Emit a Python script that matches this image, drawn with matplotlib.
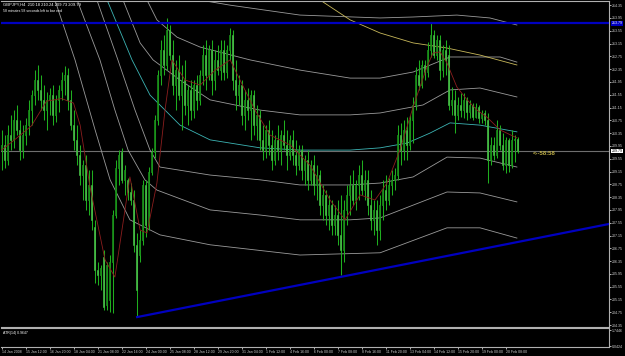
import numpy as np
import matplotlib
matplotlib.use("Agg")
import matplotlib.pyplot as plt

# GBPJPY H4 candles
opens = [209.82, 209.98, 209.51, 210.29, 210.14, 210.76, 210.45, 209.82, 210.29, 210.60,
         211.07, 211.54, 212.01, 211.70, 211.39, 211.07, 211.39, 211.54, 210.92, 211.39,
         211.70, 212.01, 212.17, 211.39, 210.60, 210.14, 209.67, 209.04, 209.35, 208.26,
         208.73, 207.42, 206.07, 205.92, 206.48, 204.98, 205.14, 206.32, 207.79, 209.26,
         209.76, 208.89, 208.89, 208.51, 208.26, 206.85, 206.54, 207.01, 208.73, 207.48,
         209.14, 209.76, 210.76, 212.17, 212.95, 212.48, 213.57, 212.79, 211.85, 212.32,
         211.54, 212.01, 211.23, 211.70, 211.07, 211.85, 211.39, 212.17, 212.79, 212.17,
         212.95, 212.01, 212.64, 212.32, 212.95, 212.26, 212.95, 213.42, 212.01, 211.54,
         211.85, 210.92, 211.39, 211.07, 211.54, 210.60, 210.92, 210.14, 209.82, 210.45,
         209.98, 209.51, 210.14, 209.82, 210.29, 209.98, 209.67, 210.14, 209.67, 209.35,
         209.82, 209.20, 209.51, 208.89, 209.35, 208.73, 209.04, 208.10, 208.42, 207.79,
         208.10, 207.48, 207.79, 207.17, 206.70, 207.95, 208.42, 208.73, 208.26, 208.73,
         209.04, 208.57, 208.89, 208.10, 207.64, 207.95, 207.32, 208.10, 208.57, 208.26,
         208.73, 208.89, 209.04, 210.29, 209.82, 210.45, 209.98, 210.76, 211.23, 212.17,
         211.85, 212.48, 212.26, 212.95, 213.42, 212.79, 213.26, 212.32, 212.95, 212.79,
         211.23, 211.39, 210.92, 211.23, 211.07, 211.39, 211.01, 211.23, 210.85, 211.17,
         210.82, 210.98, 210.76, 209.51, 209.98, 209.67, 210.45, 209.98, 209.35, 210.14,
         209.35, 210.14, 210.18]
highs = [210.45, 210.29, 210.60, 210.92, 211.07, 211.23, 210.76, 210.60, 210.82, 211.39,
         211.70, 212.32, 212.48, 212.17, 211.85, 211.64, 211.76, 211.85, 211.54, 211.85,
         212.26, 212.45, 212.39, 211.70, 211.07, 210.60, 209.98, 209.51, 209.67, 209.20,
         209.20, 207.64, 206.32, 206.23, 206.70, 206.32, 206.54, 207.95, 209.51, 209.82,
         209.89, 209.35, 208.95, 208.79, 208.57, 207.23, 207.32, 208.89, 208.89, 209.29,
         209.89, 210.92, 212.32, 213.26, 213.42, 213.95, 213.73, 213.26, 212.64, 212.79,
         212.48, 212.64, 211.85, 212.01, 212.01, 212.17, 212.32, 213.10, 213.26, 213.10,
         213.26, 212.95, 213.10, 213.26, 213.26, 213.10, 213.64, 213.57, 212.64, 212.17,
         212.01, 211.70, 211.76, 211.70, 211.70, 211.23, 211.07, 210.60, 210.60, 210.76,
         210.45, 210.29, 210.60, 210.45, 210.76, 210.45, 210.29, 210.45, 210.14, 209.98,
         209.98, 209.67, 209.82, 209.51, 209.67, 209.35, 209.20, 208.73, 208.57, 208.42,
         208.26, 208.10, 208.26, 208.42, 208.26, 208.73, 209.04, 209.20, 208.89, 209.35,
         209.51, 209.20, 209.20, 208.57, 208.26, 208.26, 208.42, 208.89, 209.04, 208.95,
         209.20, 209.26, 210.60, 210.67, 210.76, 210.85, 210.92, 211.48, 212.42, 212.64,
         212.64, 212.64, 213.20, 213.82, 213.57, 213.42, 213.42, 213.10, 213.26, 213.10,
         211.79, 211.70, 211.48, 211.60, 211.60, 211.48, 211.39, 211.29, 211.29, 211.23,
         211.07, 211.07, 210.98, 210.23, 210.23, 210.76, 210.60, 210.35, 210.23, 210.20,
         210.45, 210.29, 210.24]
lows = [209.20, 209.26, 209.35, 209.82, 209.89, 210.29, 209.51, 209.57, 209.98, 210.29,
        210.60, 211.23, 211.39, 211.07, 210.76, 210.45, 210.92, 210.60, 210.70, 211.01,
        211.39, 211.54, 211.07, 210.45, 209.82, 209.35, 208.73, 208.26, 207.95, 207.79,
        207.32, 205.67, 205.60, 205.45, 204.82, 204.82, 204.76, 204.73, 207.70, 208.73,
        208.79, 208.42, 208.26, 208.10, 206.64, 204.60, 206.32, 206.85, 207.10, 207.32,
        209.04, 209.57, 210.60, 211.85, 212.17, 212.32, 212.64, 211.54, 211.07, 211.39,
        210.45, 210.92, 210.60, 210.76, 210.82, 211.07, 211.23, 211.85, 211.70, 212.01,
        211.54, 211.70, 212.17, 212.01, 212.01, 212.07, 212.64, 211.70, 211.07, 211.23,
        210.60, 210.45, 210.76, 210.14, 210.29, 210.14, 209.82, 209.51, 209.57, 209.67,
        209.20, 209.35, 209.51, 209.35, 209.82, 209.20, 209.51, 209.35, 209.04, 209.20,
        208.89, 208.73, 208.57, 208.73, 208.42, 208.26, 207.79, 207.64, 207.48, 207.32,
        207.17, 207.17, 206.85, 205.92, 206.32, 207.48, 207.79, 208.10, 207.95, 208.26,
        208.42, 208.26, 207.79, 207.32, 207.17, 206.85, 207.01, 207.64, 207.95, 208.10,
        208.42, 208.57, 208.89, 209.35, 209.51, 209.51, 209.82, 210.04, 211.07, 211.70,
        211.76, 212.01, 212.10, 212.73, 212.70, 212.64, 212.01, 212.10, 212.17, 211.07,
        210.92, 210.35, 210.76, 210.85, 210.82, 210.76, 210.82, 210.76, 210.82, 210.67,
        210.67, 210.60, 208.79, 209.35, 209.51, 209.57, 209.82, 209.20, 209.10, 209.14,
        209.26, 209.45, 209.73]
closes = [209.98, 209.51, 210.29, 210.14, 210.76, 210.45, 209.82, 210.29, 210.60, 211.07,
          211.54, 212.01, 211.70, 211.39, 211.07, 211.39, 211.54, 210.92, 211.39, 211.70,
          212.01, 212.17, 211.39, 210.60, 210.14, 209.67, 209.04, 209.35, 208.26, 208.73,
          207.64, 206.07, 205.92, 206.14, 204.92, 206.23, 206.32, 207.79, 209.26, 209.67,
          208.89, 209.20, 208.51, 208.26, 206.85, 205.45, 207.01, 208.73, 207.48, 209.14,
          209.76, 210.76, 212.17, 212.95, 212.48, 213.57, 212.79, 211.85, 212.32, 211.54,
          212.01, 211.23, 211.70, 211.07, 211.85, 211.39, 212.17, 212.79, 212.17, 212.95,
          212.01, 212.64, 212.32, 212.95, 212.26, 212.95, 213.42, 212.01, 211.54, 211.85,
          210.92, 211.39, 211.07, 211.54, 210.60, 210.92, 210.14, 209.82, 210.45, 209.98,
          209.51, 210.14, 209.82, 210.29, 209.98, 209.67, 210.14, 209.67, 209.35, 209.82,
          209.20, 209.51, 208.89, 209.35, 208.73, 209.04, 208.10, 208.42, 207.79, 208.10,
          207.48, 207.79, 207.17, 206.70, 207.95, 208.42, 208.73, 208.26, 208.73, 209.04,
          208.57, 208.89, 208.10, 207.64, 207.95, 207.32, 208.10, 208.57, 208.26, 208.73,
          208.89, 209.04, 210.29, 209.82, 210.45, 209.98, 210.76, 211.23, 212.17, 211.85,
          212.48, 212.26, 212.95, 213.42, 212.79, 213.26, 212.32, 212.95, 212.64, 211.23,
          211.39, 210.92, 211.23, 211.07, 211.39, 211.01, 211.23, 210.85, 211.17, 210.82,
          210.98, 210.76, 209.51, 209.98, 209.67, 210.45, 209.98, 209.35, 210.14, 209.35,
          210.14, 210.18, 209.79]

# indicator curves as (bar, price) points
cyan_x = [35.2, 43.5, 49.5, 59.5, 69.5, 86.2, 99.5, 116.2, 126.2, 135.2, 142.8, 149.5, 159.5, 171.8]
cyan_y = [214.51, 212.64, 211.54, 210.60, 210.14, 209.89, 209.82, 209.82, 209.89, 210.04, 210.35, 210.67, 210.60, 210.39]
bands_x = [
    [40.5, 46.2, 50.5, 59.5, 69.5, 86.2, 99.5, 116.2, 126.2, 140.5, 149.5, 159.5, 171.8],
    [48.5, 51.8, 58.5, 66.2, 82.8, 99.5, 116.2, 126.2, 137.2, 149.5, 166.2, 171.8],
    [66.2, 76.2, 99.5, 126.2, 137.2, 151.8, 162.8, 171.8],
    [31.8, 38.8, 44.5, 49.5, 52.8, 69.5, 86.2, 99.5, 116.2, 126.2, 137.2, 148.5, 159.5, 171.8],
    [25.2, 32.8, 37.8, 42.2, 47.8, 51.8, 69.5, 86.2, 99.5, 116.2, 126.2, 148.5, 159.5, 171.8],
    [17.8, 24.5, 31.2, 36.2, 42.8, 52.8, 69.5, 99.5, 126.2, 148.5, 159.5, 171.8],
]
bands_y = [
    [214.51, 213.17, 212.64, 212.01, 211.39, 211.07, 210.92, 210.92, 210.98, 211.23, 211.70, 211.76, 211.48],
    [214.51, 213.89, 213.35, 213.04, 212.64, 212.32, 212.07, 212.07, 212.26, 212.73, 212.73, 212.57],
    [214.51, 214.35, 214.04, 213.95, 213.98, 214.04, 213.95, 213.73],
    [214.51, 212.64, 211.07, 209.82, 209.29, 209.04, 208.89, 208.73, 208.73, 208.79, 208.98, 209.60, 209.57, 209.29],
    [214.51, 212.64, 211.07, 209.82, 208.89, 208.57, 207.95, 207.79, 207.64, 207.64, 207.70, 208.51, 208.48, 208.20],
    [214.51, 212.64, 210.45, 208.89, 207.64, 207.17, 206.86, 206.54, 206.61, 207.39, 207.39, 207.07],
]
yellow_x = [106.2, 116.2, 126.2, 137.2, 148.5, 159.5, 171.8]
yellow_y = [214.51, 213.89, 213.48, 213.17, 213.01, 212.79, 212.48]
red_x = [0, 5, 10, 15, 20, 24, 26.2, 29.5, 34.5, 37.8, 42.8, 46.2, 48.5, 51.8, 54.5, 56.8,
         61.2, 66.2, 71.2, 76.2, 79.5, 84.5, 89.5, 96.2, 102.8, 109.5, 114.5, 119.5, 124.5,
         128.5, 132.8, 137.2, 141.8, 143.8, 146.2, 148.5, 151.8, 155.2, 158.5, 161.8, 166.2, 171.8]
red_y = [209.82, 210.19, 210.58, 211.35, 211.43, 211.29, 210.60, 208.67, 206.39, 205.85, 208.98, 207.32,
         207.23, 208.79, 211.07, 212.64, 212.01, 211.85, 212.32, 212.64, 212.01, 211.07, 210.29, 209.98,
         209.35, 208.26, 207.64, 208.42, 208.26, 208.79, 209.82, 211.17, 212.42, 212.85, 212.89, 212.54,
         211.79, 211.39, 211.07, 210.85, 210.45, 210.20]

hline_price = 213.79
trend_x = [45.2, 202.5]
trend_y = [204.60, 207.51]
last_price = 209.79

price_ticks = [214.35 - 0.4 * k for k in range(26)]
time_labels = ["14 Jan 2008", "15 Jan 12:00", "16 Jan 20:00", "18 Jan 04:00", "21 Jan 08:00",
               "22 Jan 16:00", "24 Jan 00:00", "25 Jan 08:00", "28 Jan 12:00", "29 Jan 20:00",
               "31 Jan 04:00", "1 Feb 12:00", "4 Feb 16:00", "6 Feb 00:00", "7 Feb 08:00",
               "8 Feb 16:00", "11 Feb 20:00", "13 Feb 04:00", "14 Feb 12:00", "15 Feb 20:00",
               "19 Feb 00:00", "20 Feb 08:00"]

plt.rcParams["font.family"] = ["Liberation Sans", "DejaVu Sans"]

W, H = 625, 356
fig = plt.figure(figsize=(W / 100, H / 100), dpi=100, facecolor="black")
ax = fig.add_axes([1 / W, 1 - 327 / H, 608 / W, 326 / H], facecolor="black")
sub = fig.add_axes([1 / W, 1 - 347 / H, 608 / W, 19 / H], facecolor="black")

xmin, xmax = -0.17, 202.5
green = "#1fae1f"
fs = 2.6

idx = np.arange(len(closes))
o = np.array(opens); c = np.array(closes)
ax.vlines(idx, lows, highs, color=green, lw=0.75, zorder=3)
bear = c < o   # bear candles are white on this chart
ax.bar(idx[bear], (o - c)[bear], bottom=c[bear], width=0.62, color="white",
       edgecolor=green, linewidth=0.5, zorder=4)
ax.bar(idx[~bear], (c - o)[~bear], bottom=o[~bear], width=0.62, color="black",
       edgecolor=green, linewidth=0.5, zorder=4)

for bx, by in zip(bands_x, bands_y):
    ax.plot(bx, by, color="#9a9a9a", lw=0.6, zorder=2)
ax.plot(cyan_x, cyan_y, color="#3cb4b4", lw=0.6, zorder=2)
ax.plot(yellow_x, yellow_y, color="#c8b85a", lw=0.6, zorder=2)
ax.plot(red_x, red_y, color="#8c1e1e", lw=0.6, zorder=5)

ax.axhline(hline_price, color="#0000c0", lw=1.6, zorder=6)
ax.plot(trend_x, trend_y, color="#0000c0", lw=1.6, zorder=6)
ax.axhline(last_price, color="#6e6e6e", lw=0.8, zorder=1)
ax.text(177.2, last_price - 0.08, "<--58:58", color="#c0b048", fontsize=4.3,
        fontweight="bold", va="center", ha="left")

ax.set_xlim(xmin, xmax)
ax.set_ylim(204.29, 214.48)
ax.yaxis.tick_right()
ax.set_yticks(price_ticks)
ax.set_yticklabels(["%.2f" % p for p in price_ticks])
ax.tick_params(axis="y", colors="#d0d0d0", labelsize=fs, length=1.5, width=0.6, pad=0.8)
ax.set_xticks([])
for s in ax.spines.values():
    s.set_color("#b0b0b0"); s.set_linewidth(0.8)
ax.spines["left"].set_visible(False)

lbl = dict(fontsize=fs, va="center", ha="left", transform=ax.get_yaxis_transform())
ax.text(1.004, last_price, "%.2f" % last_price, color="black",
        bbox=dict(facecolor="white", edgecolor="none", pad=0.3), **lbl)
ax.text(1.004, hline_price, "%.2f" % hline_price, color="white",
        bbox=dict(facecolor="#0000c0", edgecolor="none", pad=0.3), **lbl)

ax.text(0.003, 0.995, "GBPJPY,H4  210.18 210.24 209.73 209.79", color="white",
        fontsize=3.0, transform=ax.transAxes, va="top", ha="left")
ax.text(0.003, 0.975, "58 minutes 58 seconds left to bar end", color="white",
        fontsize=2.5, transform=ax.transAxes, va="top", ha="left")

sub.set_xlim(xmin, xmax)
sub.set_ylim(0, 1)
sub.yaxis.tick_right()
sub.set_yticks([0.05, 0.89])
sub.set_yticklabels(["0.0424", "1.7446"])
sub.tick_params(axis="y", colors="#d0d0d0", labelsize=fs, length=1.5, width=0.6, pad=0.8)
sub.set_xticks(np.arange(len(time_labels)) * 8)
sub.set_xticklabels(time_labels, ha="left")
sub.tick_params(axis="x", colors="#d0d0d0", labelsize=2.5, length=1.5, width=0.6, pad=0.5)
for s in sub.spines.values():
    s.set_color("#b0b0b0"); s.set_linewidth(0.8)
sub.spines["left"].set_visible(False)
sub.text(0.003, 0.85, "ATR(14) 0.9647", color="white", fontsize=2.5,
         transform=sub.transAxes, va="top", ha="left")

fig.savefig("out.png", dpi=100, facecolor="black")
